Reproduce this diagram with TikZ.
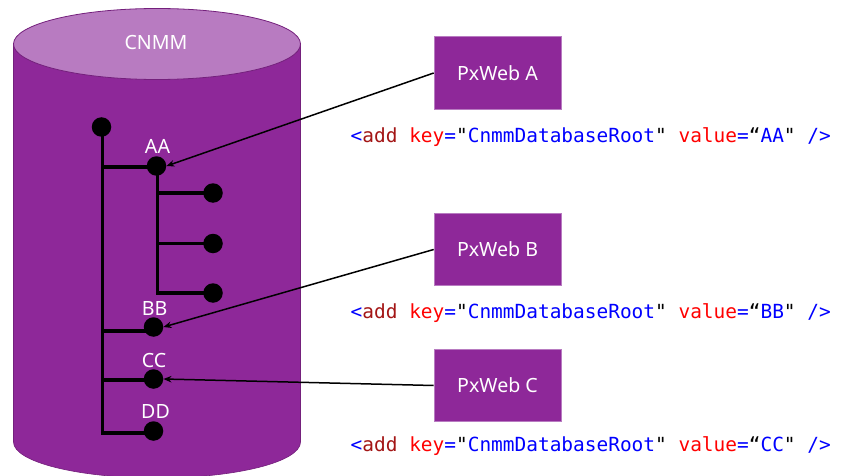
\documentclass[tikz,border=0pt]{standalone}
\usepackage{fontspec}
\setmainfont{Noto Sans}
\newfontfamily\codefont{DejaVu Sans Mono}
\usetikzlibrary{arrows.meta}
\definecolor{cylpurple}{HTML}{8E2899}
\definecolor{toppurple}{HTML}{B87BC1}
\definecolor{edgepurple}{HTML}{74207C}
\definecolor{xmlblue}{HTML}{0000FF}
\definecolor{xmlbrown}{HTML}{A31515}
\definecolor{xmlred}{HTML}{FF0000}
\tikzset{
  x=1pt,y=-1pt,
  dot/.style={circle,fill=black,draw=none,minimum size=19.5pt,inner sep=0pt},
  treeline/.style={line width=3.8pt,black},
  linkarrow/.style={line width=1.5pt,black,-{Stealth[length=8pt,width=6.5pt]}},
  webbox/.style={rectangle,fill=cylpurple,draw=toppurple,line width=0.6pt,text=white,font=\fontsize{19.6}{23}\selectfont,minimum width=127pt,minimum height=72.5pt,inner sep=0pt},
  treelabel/.style={text=white,font=\fontsize{19.6}{23}\selectfont,inner sep=0pt},
  codeline/.style={anchor=base west,inner sep=0pt,font=\codefont\fontsize{19.45}{22}\selectfont}
}
\newcommand{\codetext}[1]{\textcolor{xmlblue}{<}\textcolor{xmlbrown}{add} \textcolor{xmlred}{key}\textcolor{xmlblue}{=}"\textcolor{xmlblue}{CnmmDatabaseRoot}" \textcolor{xmlred}{value}\textcolor{xmlblue}{=}“\textcolor{xmlblue}{#1}" \textcolor{xmlblue}{/>}}
\begin{document}
\begin{tikzpicture}
\useasboundingbox (0,0) rectangle (843,476);
\clip (0,0) rectangle (843,476);
% cylinder
\path[fill=cylpurple,draw=edgepurple,line width=0.6pt]
  (13.5,44) -- (13.5,442) arc[start angle=180,end angle=360,x radius=143.5,y radius=-36] -- (300.5,44) -- cycle;
\path[fill=toppurple,draw=edgepurple,line width=0.8pt] (157,44) ellipse[x radius=143.5,y radius=35.5];
\node[treelabel] (cnmm) at (156,42.5) {CNMM};
% tree nodes
\node[dot] (root) at (101.5,127) {};
\node[dot] (aa) at (156.5,166) {};
\node[dot] (a1) at (213,193) {};
\node[dot] (a2) at (213,243.5) {};
\node[dot] (a3) at (213,293) {};
\node[dot] (bb) at (153.5,327) {};
\node[dot] (cc) at (153.5,379) {};
\node[dot] (dd) at (153.5,431) {};
\coordinate (trunktop) at (102.5,127);
\coordinate (trunkaa) at (102.5,167);
\coordinate (trunkbb) at (102.5,331);
\coordinate (trunkcc) at (102.5,380);
\coordinate (trunkdd) at (102.5,433);
\coordinate (branchaa) at (157.5,166);
\coordinate (brancha1) at (157.5,193);
\coordinate (brancha2) at (157.5,243.5);
\coordinate (brancha3) at (157.5,293);
% tree lines
\draw[treeline,line cap=rect] (trunktop) -- (trunkdd) -- (dd.center |- trunkdd);
\draw[treeline] (trunkaa) -- (aa.center |- trunkaa);
\draw[treeline] (trunkbb) -- (bb.center |- trunkbb);
\draw[treeline] (trunkcc) -- (cc.center |- trunkcc);
\draw[treeline,line cap=rect] (branchaa) -- (brancha3) -- (a3.center);
\draw[treeline] (brancha1) -- (a1.center);
\draw[treeline] (brancha2) -- (a2.center);
% tree labels
\node[treelabel] (laa) at (157.5,146) {AA};
\node[treelabel] (lbb) at (154.5,308.5) {BB};
\node[treelabel] (lcc) at (154,360) {CC};
\node[treelabel] (ldd) at (155.5,411.5) {DD};
% boxes
\node[webbox] (pa) at (497.5,73) {PxWeb A};
\node[webbox] (pb) at (497.5,249.5) {PxWeb B};
\node[webbox] (pc) at (497.5,385.5) {PxWeb C};
% connectors
\draw[linkarrow] (pa.west) -- (aa.east);
\draw[linkarrow] (pb.west) -- (bb.east);
\draw[linkarrow] (pc.west) -- (cc.east);
% code
\node[codeline] (ca) at (350.5,142.7) {\codetext{AA}};
\node[codeline] (cb) at (350.5,318.7) {\codetext{BB}};
\node[codeline] (cc2) at (350.5,451.7) {\codetext{CC}};
\end{tikzpicture}
\end{document}
